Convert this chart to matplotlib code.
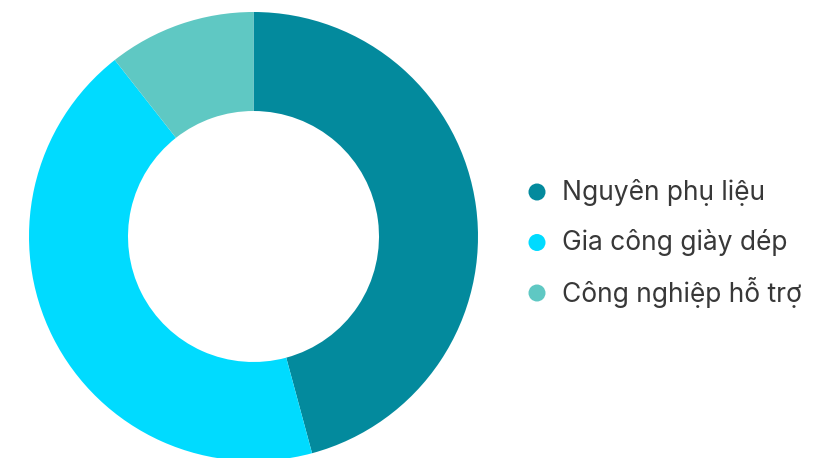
import matplotlib.pyplot as plt
from matplotlib.patches import Ellipse

# du lieu
labels = ["Nguyên phụ liệu", "Gia công giày dép", "Công nghiệp hỗ trợ"]
values = [45.8, 43.6, 10.6]
colors = ["#038A9D", "#00DBFF", "#5FC8C3"]

W, H = 815, 458
fig = plt.figure(figsize=(W / 100, H / 100), dpi=100)

# vi tri donut (pixel)
cx, cy, r = 253.5, 236.5, 224.5
ax = fig.add_axes([(cx - r) / W, (H - cy - r) / H, 2 * r / W, 2 * r / H])
ax.pie(values, colors=colors, startangle=90, counterclock=False,
       radius=1, wedgeprops=dict(width=1 - 125.5 / 224.5, linewidth=0))
ax.set_xlim(-1, 1)
ax.set_ylim(-1, 1)
ax.set_aspect("equal")
ax.axis("off")

# chu thich
for i, (lab, col) in enumerate(zip(labels, colors)):
    y = 192 + i * 50.5
    fig.patches.append(Ellipse((537 / W, 1 - y / H), 17 / W, 17 / H, transform=fig.transFigure,
                               facecolor=col, edgecolor="none"))
    fig.text(562 / W, 1 - y / H, lab, fontsize=19, color="#383838",
             family=["Inter", "DejaVu Sans"], va="center", ha="left")

fig.savefig("out.png", dpi=100)
